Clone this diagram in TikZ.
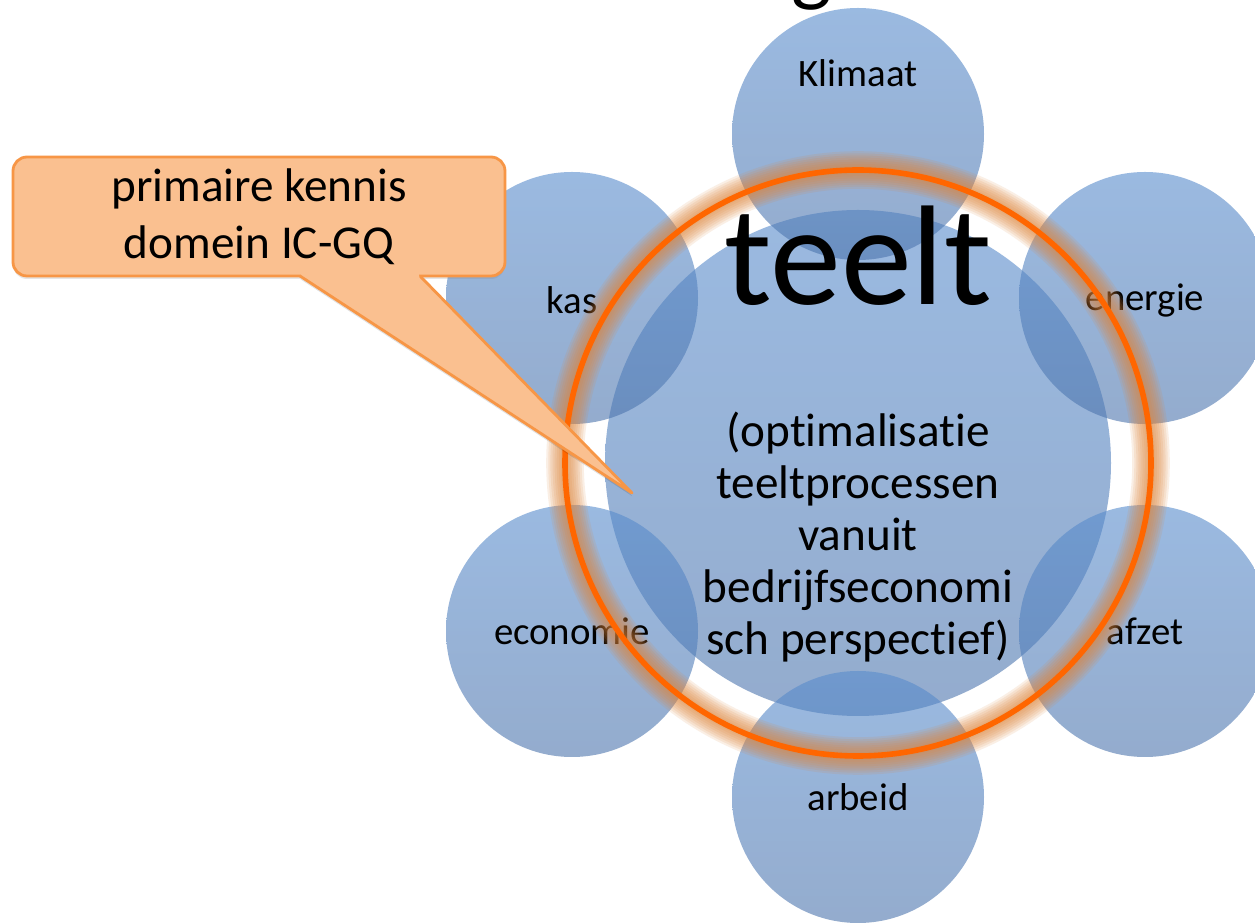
\documentclass[tikz,border=0pt]{standalone}
\usepackage{fontspec}
\setmainfont{Carlito}[Ligatures=NoCommon]
\usetikzlibrary{shadows}
\definecolor{bubtop}{RGB}{88,140,205}
\definecolor{bubbot}{RGB}{77,117,173}
\definecolor{ringorange}{RGB}{255,102,0}
\definecolor{glow}{RGB}{222,132,58}
\definecolor{calloutfill}{RGB}{250,192,144}
\definecolor{calloutline}{RGB}{247,150,70}
\tikzset{
  bubble/.style={circle, inner sep=0pt, top color=bubtop, bottom color=bubbot,
    fill opacity=.6, minimum size=126pt},
  hub/.style={bubble, minimum size=253pt},
  bubtext/.style={inner sep=0pt, font=\fontsize{19.4}{23}\selectfont},
  hubtext/.style={inner sep=0pt, align=center, font=\fontsize{23.6}{26}\selectfont},
  callbox/.style={rectangle, rounded corners=7pt, draw=calloutline, fill=calloutfill,
    line width=1.4pt, minimum width=246pt, minimum height=59.5pt, align=center,
    font=\fontsize{23.6}{28.5}\selectfont,
    drop shadow={opacity=.2, shadow xshift=0pt, shadow yshift=-1.5pt}}
}
\begin{document}
\begin{tikzpicture}[x=.5pt, y=-.5pt]
  \fill[white] (0,0) rectangle (1255,924);
  \useasboundingbox (0,0) rectangle (1255,924);
  \node[anchor=base, inner sep=0pt, font=\fontsize{43}{50}\selectfont] (title) at (812,-4) {g};

  \node[hub] (teelt) at (858,463) {};
  \node[bubble] (klimaat) at (858,134) {};
  \node[bubble] (energie) at (1145,298) {};
  \node[bubble] (afzet) at (1145,631) {};
  \node[bubble] (arbeid) at (858,797) {};
  \node[bubble] (economie) at (572,631) {};
  \node[bubble] (kas) at (572,298) {};

  \node[bubtext] (klimaatlbl) at (858,73) {Klimaat};
  \node[bubtext] (energielbl) at (1145,300) {energie};
  \node[bubtext] (afzetlbl) at (1145,631) {afzet};
  \node[bubtext] (arbeidlbl) at (858,797) {arbeid};
  \node[bubtext] (economielbl) at (572,631) {economie};
  \node[bubtext] (kaslbl) at (572,300) {kas};

  \node[anchor=base, inner sep=0pt, font=\fontsize{71}{80}\selectfont] (teeltlbl) at (858,305) {teelt};
  \node[hubtext] (doel) at (858,537) {(optimalisatie\\teeltprocessen\\vanuit\\bedrijfseconomi\\sch perspectief)};

  \foreach \i in {1,...,8}
    \draw[glow, line width=2pt+2.1*\i pt, opacity=.13] (teelt.center) circle[radius=293];
  \draw[ringorange, line width=2.8pt] (teelt.center) circle[radius=293];

  \node[callbox] (callout) at (259,216.5) {primaire kennis\\domein IC-GQ};
  \coordinate (pl) at (300,276);
  \coordinate (pr) at (420,276);
  \coordinate (tip) at (632,493);
  \fill[black, opacity=.12] ([yshift=-1.5pt]pl) -- ([yshift=-1.5pt]tip) -- ([yshift=-1.5pt]pr) -- cycle;
  \fill[calloutfill] ([xshift=.7pt,yshift=1.2pt]pl) rectangle ([xshift=-.7pt,yshift=-.5pt]pr);
  \fill[calloutfill] (pl) -- (tip) -- (pr) -- cycle;
  \draw[calloutline, line width=1.4pt, line join=round] (pl) -- (tip) -- (pr);
\end{tikzpicture}
\end{document}
